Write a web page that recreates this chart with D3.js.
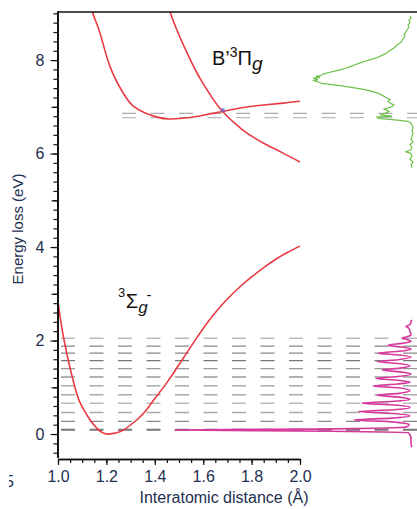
<!DOCTYPE html>
<html>
<head>
<meta charset="utf-8">
<script src="https://cdn.jsdelivr.net/npm/d3@7"></script>
<style>
  body { margin: 0; background: #fff; }
  text { font-family: "Liberation Sans", Arial, sans-serif; }
</style>
</head>
<body>
<div id="chart"></div>
<script>
// Potential curves of O2 + energy-loss spectra

// ground state 3Sigma_g- (distance in A, energy in eV)
var groundR = [1.000, 1.015, 1.030, 1.045, 1.060, 1.080, 1.100, 1.130, 1.165, 1.200, 1.235, 1.270, 1.325, 1.360, 1.400, 1.450, 1.520, 1.570, 1.620, 1.660, 1.700, 1.750, 1.800, 1.850, 1.900, 1.950, 2.000];
var groundE = [2.83, 2.30, 1.88, 1.52, 1.20, 0.82, 0.58, 0.32, 0.10, 0.00, 0.02, 0.085, 0.30, 0.48, 0.76, 1.10, 1.64, 2.03, 2.40, 2.66, 2.89, 3.14, 3.36, 3.56, 3.74, 3.89, 4.02];

// B'3Pi_g bound curve
var wellR = [1.120, 1.142, 1.174, 1.215, 1.270, 1.310, 1.360, 1.410, 1.460, 1.545, 1.620, 1.680, 1.760, 1.850, 1.930, 2.000];
var wellE = [9.50, 9.03, 8.57, 7.86, 7.29, 7.02, 6.87, 6.78, 6.74, 6.77, 6.84, 6.90, 6.98, 7.04, 7.08, 7.12];

// repulsive curve
var repR = [1.450, 1.463, 1.490, 1.540, 1.590, 1.640, 1.680, 1.760, 1.850, 1.930, 2.000];
var repE = [9.25, 9.03, 8.66, 8.08, 7.58, 7.17, 6.90, 6.52, 6.22, 6.01, 5.82];

// vibrational levels (dashed)
var groundLevels = [0.09, 0.27, 0.46, 0.66, 0.84, 1.03, 1.22, 1.40, 1.57, 1.73, 1.88, 2.05];
var upperLevels = [6.77, 6.86];

// crossing mark
var crossR = 1.681;
var crossE = 6.93;

// magenta spectrum (energy loss, intensity)
var magE = [-0.28, -0.20, -0.10, -0.02, 0.03, 0.06, 0.086, 0.11, 0.15, 0.20, 0.26, 0.30, 0.34, 0.39, 0.44, 0.48, 0.52, 0.57, 0.62, 0.66, 0.70, 0.745, 0.79, 0.83, 0.87, 0.93, 0.99, 1.03, 1.07, 1.11, 1.15, 1.19, 1.23, 1.28, 1.33, 1.37, 1.41, 1.46, 1.51, 1.55, 1.59, 1.64, 1.69, 1.73, 1.77, 1.815, 1.86, 1.90, 1.94, 1.98, 2.02, 2.05, 2.08, 2.12, 2.20, 2.26, 2.30, 2.34, 2.40, 2.44];
var magI = [0, 0.01, 0.01, 0.02, 0.04, 0.82, 2.37, 0.82, 0.06, 0.03, 0.20, 0.58, 0.20, 0.02, 0.19, 0.54, 0.19, 0.02, 0.18, 0.50, 0.18, 0.02, 0.13, 0.35, 0.13, 0.02, 0.15, 0.39, 0.15, 0.02, 0.14, 0.36, 0.14, 0.01, 0.12, 0.30, 0.12, 0.02, 0.14, 0.35, 0.14, 0.01, 0.13, 0.34, 0.13, 0.01, 0.10, 0.24, 0.10, 0.01, 0.05, 0.10, 0.05, 0.01, 0.02, 0.03, 0.06, 0.02, 0.01, 0];

// green spectrum
var greenE = [5.70, 5.76, 5.82, 5.88, 5.94, 6.00, 6.04, 6.08, 6.13, 6.19, 6.25, 6.31, 6.37, 6.43, 6.49, 6.55, 6.61, 6.65, 6.69, 6.72, 6.75, 6.78, 6.80, 6.83, 6.86, 6.90, 6.95, 7.00, 7.04, 7.08, 7.12, 7.16, 7.20, 7.25, 7.30, 7.34, 7.38, 7.42, 7.46, 7.50, 7.53, 7.56, 7.58, 7.61, 7.63, 7.65, 7.67, 7.70, 7.74, 7.78, 7.82, 7.86, 7.90, 7.94, 7.98, 8.02, 8.06, 8.10, 8.14, 8.18, 8.22, 8.26, 8.30, 8.34, 8.38, 8.42, 8.46, 8.50, 8.55, 8.60, 8.65, 8.70, 8.75, 8.80, 8.85, 8.90, 8.95];
var greenI = [0, 0.01, -0.01, 0.02, 0, 0.01, 0.06, 0.01, 0, 0.02, -0.01, 0.01, 0, -0.01, 0, -0.01, 0, 0.01, 0.04, 0.17, 0.34, 0.35, 0.20, 0.32, 0.27, 0.23, 0.28, 0.20, 0.18, 0.22, 0.24, 0.22, 0.26, 0.30, 0.35, 0.42, 0.50, 0.62, 0.74, 0.90, 0.94, 0.98, 0.94, 0.99, 0.92, 0.96, 0.91, 0.89, 0.82, 0.74, 0.67, 0.62, 0.57, 0.52, 0.46, 0.40, 0.34, 0.30, 0.26, 0.24, 0.21, 0.18, 0.16, 0.14, 0.11, 0.10, 0.09, 0.07, 0.08, 0.06, 0.05, 0.03, 0.04, 0.02, 0.03, 0.01, 0.02];

// tick values
var xMajor = [1.0, 1.2, 1.4, 1.6, 1.8, 2.0];
var yMajor = [0, 2, 4, 6, 8];
var yMid = [1, 3, 5, 7];

var svgWidth = 417;
var svgHeight = 509;
var plotLeft = 57.5;
var plotTop = 12;
var plotBottom = 459;

var svg = d3.select("#chart")
    .append("svg")
    .attr("width", svgWidth)
    .attr("height", svgHeight);

var xScale = d3.scaleLinear().domain([1.0, 2.0]).range([58, 300]);
var yScale = d3.scaleLinear().domain([-0.5, 9.05]).range([457.4, 11.0]);
var specScale = d3.scaleLinear().domain([0, 1]).range([412, 312]);

svg.append("clipPath")
    .attr("id", "plotClip")
    .append("rect")
    .attr("x", plotLeft)
    .attr("y", plotTop)
    .attr("width", svgWidth - plotLeft)
    .attr("height", plotBottom - plotTop);

var plot = svg.append("g").attr("clip-path", "url(#plotClip)");

// dashed vibrational levels
var levelGray = ["#777", "#888", "#aaa", "#bbb", "#aaa", "#999", "#999", "#999", "#777", "#888", "#888", "#bbb"];
plot.selectAll(".glevel")
    .data(groundLevels)
    .enter()
    .append("line")
    .attr("class", "glevel")
    .attr("x1", 61)
    .attr("x2", svgWidth)
    .attr("y1", d => yScale(d))
    .attr("y2", d => yScale(d))
    .attr("stroke", (d, i) => levelGray[i])
    .attr("stroke-width", (d, i) => i == 0 ? 2 : 1.4)
    .attr("stroke-dasharray", "14,14.5");

plot.selectAll(".ulevel")
    .data(upperLevels)
    .enter()
    .append("line")
    .attr("class", "ulevel")
    .attr("x1", 122)
    .attr("x2", svgWidth)
    .attr("y1", d => yScale(d))
    .attr("y2", d => yScale(d))
    .attr("stroke", (d, i) => i == 0 ? "#bbb" : "#aaa")
    .attr("stroke-width", 1.4)
    .attr("stroke-dasharray", "14,14.5");

// potential curves
var curveLine = d3.line()
    .x(d => xScale(d[0]))
    .y(d => yScale(d[1]))
    .curve(d3.curveNatural);

[[groundR, groundE], [wellR, wellE], [repR, repE]].forEach(function(c) {
    plot.append("path")
        .datum(c[0].map((r, i) => [r, c[1][i]]))
        .attr("d", curveLine)
        .attr("fill", "none")
        .attr("stroke", "#ea3a42")
        .attr("stroke-width", 1.6);
});

plot.append("circle")
    .attr("cx", xScale(crossR))
    .attr("cy", yScale(crossE))
    .attr("r", 2.2)
    .attr("fill", "#6b5fc8")
    .attr("opacity", 0.75);

// spectra, drawn top to bottom
var specLine = d3.line()
    .x(d => specScale(d[1]))
    .y(d => yScale(d[0]));

plot.append("path")
    .datum(magE.map((e, i) => [e, magI[i]]).reverse())
    .attr("d", specLine.curve(d3.curveMonotoneY))
    .attr("fill", "none")
    .attr("stroke", "#d6399b")
    .attr("stroke-width", 1.6);

plot.append("path")
    .datum(greenE.map((e, i) => [e, greenI[i]]).reverse())
    .attr("d", specLine.curve(d3.curveLinear))
    .attr("fill", "none")
    .attr("stroke", "#6cc04a")
    .attr("stroke-width", 1.2);

// axes
var labelColor = "#1e3050";

var xMinor = svg.append("g")
    .attr("transform", "translate(0," + plotBottom + ")")
    .call(d3.axisBottom(xScale).tickValues(d3.range(1.0, 2.001, 0.05)).tickSize(4).tickFormat("").tickSizeOuter(0));
var xAxis = svg.append("g")
    .attr("transform", "translate(0," + plotBottom + ")")
    .call(d3.axisBottom(xScale).tickValues(xMajor).tickSize(6).tickFormat(d3.format(".1f")).tickSizeOuter(0).tickPadding(6));
xAxis.selectAll("text")
    .attr("font-size", "16px")
    .attr("font-family", "Liberation Sans, Arial, sans-serif")
    .attr("fill", labelColor);

var yMinor = svg.append("g")
    .attr("transform", "translate(" + plotLeft + ",0)")
    .call(d3.axisLeft(yScale).tickValues(d3.range(-0.4, 9.01, 0.2)).tickSize(4).tickFormat("").tickSizeOuter(0));
var yMidAxis = svg.append("g")
    .attr("transform", "translate(" + plotLeft + ",0)")
    .call(d3.axisLeft(yScale).tickValues(yMid).tickSize(6).tickFormat("").tickSizeOuter(0));
var yAxis = svg.append("g")
    .attr("transform", "translate(" + plotLeft + ",0)")
    .call(d3.axisLeft(yScale).tickValues(yMajor).tickSize(7).tickSizeOuter(0).tickPadding(6));
yAxis.selectAll("text")
    .attr("font-size", "16px")
    .attr("font-family", "Liberation Sans, Arial, sans-serif")
    .attr("fill", labelColor);

svg.selectAll(".domain").attr("stroke", "#111").attr("stroke-width", 1.5);
svg.selectAll(".tick line").attr("stroke", "#111").attr("stroke-width", 1.2);

// top frame line
svg.append("line")
    .attr("x1", plotLeft)
    .attr("x2", svgWidth)
    .attr("y1", plotTop)
    .attr("y2", plotTop)
    .attr("stroke", "#111")
    .attr("stroke-width", 1.5);

// axis titles
svg.append("text")
    .attr("transform", "translate(23," + 229 + ") rotate(-90)")
    .attr("text-anchor", "middle")
    .attr("font-size", "15px")
    .attr("fill", labelColor)
    .text("Energy loss (eV)");

svg.append("text")
    .attr("x", 224)
    .attr("y", 503)
    .attr("text-anchor", "middle")
    .attr("font-size", "16px")
    .attr("fill", labelColor)
    .text("Interatomic distance (Å)");

// cropped label from neighbouring panel
svg.append("clipPath")
    .attr("id", "cutClip")
    .append("rect")
    .attr("x", 9).attr("y", 460).attr("width", 20).attr("height", 40);
svg.append("text")
    .attr("clip-path", "url(#cutClip)")
    .attr("x", 5)
    .attr("y", 487)
    .attr("font-size", "16px")
    .attr("fill", labelColor)
    .text("5");

// state labels
var bx = xScale(1.636);
var by = yScale(7.89);
var bLabel = svg.append("text")
    .attr("x", bx)
    .attr("y", by)
    .attr("font-size", "20px")
    .attr("fill", "#111");
bLabel.append("tspan").text("B\u2019");
bLabel.append("tspan").attr("font-size", "14px").attr("dy", -8).text("3");
bLabel.append("tspan").attr("dy", 8).text("\u03A0");
bLabel.append("tspan").attr("font-size", "19px").attr("font-style", "italic").attr("dy", 5).text("g");

var sx = xScale(1.248);
var sy = yScale(2.70);
var sLabel = svg.append("text")
    .attr("x", sx)
    .attr("y", sy - 11)
    .attr("font-size", "13px")
    .attr("fill", "#111");
sLabel.append("tspan").text("3");
sLabel.append("tspan").attr("font-size", "20px").attr("dx", 0.5).attr("dy", 11).text("\u03A3");
sLabel.append("tspan").attr("font-size", "17px").attr("font-style", "italic").attr("dy", 5).text("g");
sLabel.append("tspan").attr("font-size", "15px").attr("dx", -1).attr("dy", -13).text("-");
</script>
</body>
</html>
